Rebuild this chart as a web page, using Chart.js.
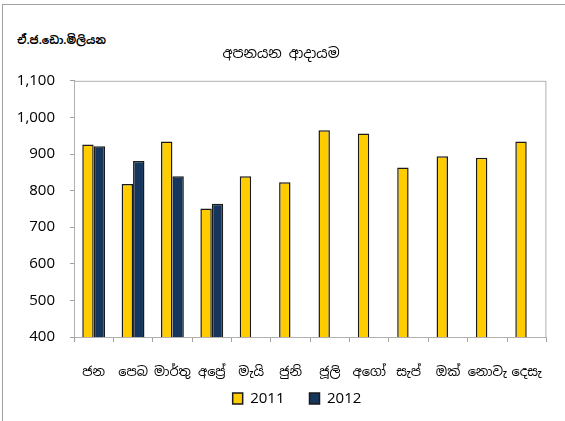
<!DOCTYPE html>
<html>
<head>
<meta charset="utf-8">
<script src="https://cdn.jsdelivr.net/npm/chart.js@4"></script>
<style>
  body { margin: 0; background: #fff; font-family: 'Noto Sans Sinhala', 'Noto Sans', sans-serif; }
  #wrap { position: relative; width: 565px; height: 421px; }
  #frame { position: absolute; left: 2px; top: 4px; width: 580px; height: 430px; border: 1px solid #a0a0a0; box-sizing: border-box; }
  #unit { position: absolute; left: 17px; top: 33px; font-size: 11px; font-weight: bold; color: #000; }
  canvas { position: absolute; left: 0; top: 0; }
</style>
</head>
<body>
<div id="wrap">
  <div id="frame"></div>
  <div id="unit">ඒ.ජ.ඩො.මිලියන</div>
  <canvas id="exportsChart" width="565" height="421"></canvas>
</div>
<script>
const months = ['ජන', 'පෙබ', 'මාර්තු', 'අප්\u200Dරේ', 'මැයි', 'ජුනි', 'ජූලි', 'අගෝ', 'සැප්', 'ඔක්', 'නොවැ', 'දෙසැ'];
const exports2011 = [926, 818, 934, 751, 839, 823, 965, 956, 863, 894, 890, 934];
const exports2012 = [921, 881, 839, 764, null, null, null, null, null, null, null, null];
const yTicks = { min: 400, max: 1100, step: 100 };

const fontFamily = "'Noto Sans Sinhala', 'Noto Sans', sans-serif";

// grey box round the plot area, and nudge the legend a bit right like the original
const plotFrame = {
  id: 'plotFrame',
  afterLayout(chart) {
    chart.legend.left += 16;
    chart.legend.right += 16;
  },
  afterDraw(chart) {
    const a = chart.chartArea;
    const ctx = chart.ctx;
    ctx.save();
    ctx.strokeStyle = '#b0b0b0';
    ctx.lineWidth = 1;
    ctx.strokeRect(a.left + 0.5, a.top + 0.5, a.right - a.left - 1, a.bottom - a.top);
    ctx.restore();
  }
};

const exportsChart = new Chart(document.getElementById('exportsChart').getContext('2d'), {
  type: 'bar',
  data: {
    labels: months,
    datasets: [{
      label: '2011',
      data: exports2011,
      backgroundColor: '#FFCC00',
      borderColor: '#1a1a1a',
      borderWidth: 1.5
    }, {
      label: '2012',
      data: exports2012,
      backgroundColor: '#17365D',
      borderColor: '#1a1a1a',
      borderWidth: 1.5
    }]
  },
  options: {
    responsive: false,
    animation: false,
    layout: { padding: { left: 0, right: 3, top: 0, bottom: 5 } },
    datasets: { bar: { categoryPercentage: 0.58, barPercentage: 1 } },
    plugins: {
      title: {
        display: true,
        text: 'අපනයන ආදායම',
        color: '#000',
        font: { family: fontFamily, size: 14, weight: 'normal' },
        padding: { top: 46, bottom: 18 }
      },
      legend: {
        position: 'bottom',
        labels: {
          color: '#000',
          font: { family: fontFamily, size: 15 },
          boxWidth: 10,
          boxHeight: 11,
          padding: 10,
          useBorderRadius: false,
          generateLabels(chart) {
            const items = Chart.defaults.plugins.legend.labels.generateLabels(chart);
            items[0].text += '  ';
            return items;
          }
        }
      },
      tooltip: { enabled: false }
    },
    scales: {
      x: {
        afterFit(scale) { scale.height = 44; },
        grid: { drawOnChartArea: false, drawTicks: true, tickLength: 5, color: '#a0a0a0' },
        border: { color: '#a0a0a0' },
        ticks: { color: '#000', font: { family: fontFamily, size: 13 }, maxRotation: 0, autoSkip: false, padding: 23 }
      },
      y: {
        min: yTicks.min,
        max: yTicks.max,
        afterFit(scale) { scale.width = 74; },
        grid: { drawOnChartArea: false, drawTicks: true, tickLength: 4, color: '#a0a0a0' },
        border: { color: '#a0a0a0' },
        ticks: {
          stepSize: yTicks.step,
          color: '#000',
          font: { family: fontFamily, size: 15 },
          padding: 15,
          callback: v => v.toLocaleString('en-US')
        }
      }
    }
  },
  plugins: [plotFrame]
});
</script>
</body>
</html>
